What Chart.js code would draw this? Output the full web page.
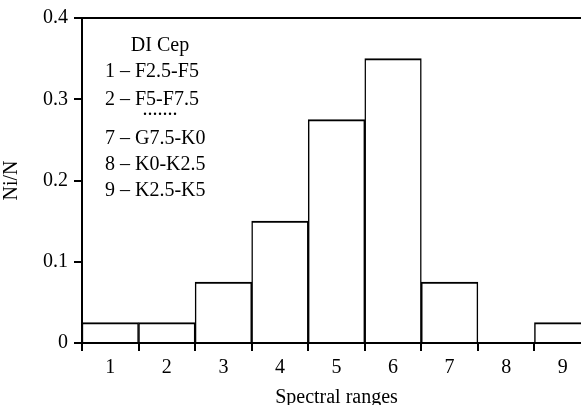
<!DOCTYPE html>
<html>
<head>
<meta charset="utf-8">
<script src="https://cdn.jsdelivr.net/npm/chart.js@4/dist/chart.umd.min.js"></script>
<style>
  html, body { margin: 0; padding: 0; background: #fff; overflow: hidden; }
  #wrap { width: 581px; height: 405px; overflow: hidden; }
</style>
</head>
<body>
<div id="wrap"><canvas id="histChart" width="595" height="405"></canvas></div>
<script>
/* ---------- data ---------- */
const ranges = ['1', '2', '3', '4', '5', '6', '7', '8', '9'];
const fractions = [0.025, 0.025, 0.075, 0.15, 0.275, 0.35, 0.075, 0, 0.025];
const legendLines = ['DI Cep', '1 \u2013 F2.5-F5', '2 \u2013 F5-F7.5', '.......', '7 \u2013 G7.5-K0', '8 \u2013 K0-K2.5', '9 \u2013 K2.5-K5'];

const serif = "'Liberation Serif', 'Times New Roman', serif";
const ink = '#000';

/* ---------- text block in upper-left corner ---------- */
const notePlugin = {
  id: 'note',
  afterDraw(chart) {
    const { ctx, chartArea } = chart;
    const x0 = chartArea.left + 23;
    const baselines = [33, 59, 87, 97, 126, 152, 178];
    ctx.save();
    ctx.fillStyle = ink;
    ctx.font = `20px ${serif}`;
    ctx.textBaseline = 'alphabetic';
    legendLines.forEach((txt, i) => {
      const y = chartArea.top + baselines[i];
      if (i === 0 || i === 3) {
        ctx.textAlign = 'center';
        ctx.fillText(txt, chartArea.left + 78, y);
      } else {
        ctx.textAlign = 'left';
        ctx.fillText(txt, x0, y);
      }
    });
    ctx.restore();
  },
};

new Chart(document.getElementById('histChart').getContext('2d'), {
  type: 'bar',
  data: {
    labels: ranges,
    datasets: [{
      data: fractions,
      backgroundColor: '#fff',
      borderColor: ink,
      borderWidth: { top: 2, left: 1.5, right: 1.5, bottom: 0 },
      barPercentage: 1,
      categoryPercentage: 1,
    }],
  },
  options: {
    responsive: false,
    animation: false,
    layout: { padding: { top: 16, right: 4, left: 0, bottom: 0 } },
    plugins: { legend: { display: false }, tooltip: { enabled: false } },
    scales: {
      x: {
        offset: true,
        grid: { offset: true, drawOnChartArea: false, drawTicks: true, tickLength: 8, color: ink, lineWidth: 2 },
        border: { color: ink, width: 2 },
        ticks: { color: ink, font: { family: serif, size: 20 }, padding: 5 },
        title: { display: true, text: 'Spectral ranges', color: ink, font: { family: serif, size: 20 }, padding: { top: 0, bottom: -5 } },
        afterFit: (s) => { s.height = 62; },
      },
      y: {
        min: 0, max: 0.4,
        ticks: {
          stepSize: 0.1, color: ink, padding: 6,
          font: { family: serif, size: 20 },
          callback: (v) => (v === 0 ? '0' : v.toFixed(1)),
        },
        grid: {
          color: (c) => (c.tick && Math.abs(c.tick.value - 0.4) < 1e-9 ? ink : 'rgba(0,0,0,0)'),
          tickColor: ink, tickLength: 8, lineWidth: 2,
        },
        border: { color: ink, width: 2 },
        title: { display: true, text: 'Ni/N', color: ink, font: { family: serif, size: 20 }, padding: { top: 0, bottom: 0 } },
        afterFit: (s) => { s.width = 82; },
      },
    },
  },
  plugins: [notePlugin],
});
</script>
</body>
</html>
